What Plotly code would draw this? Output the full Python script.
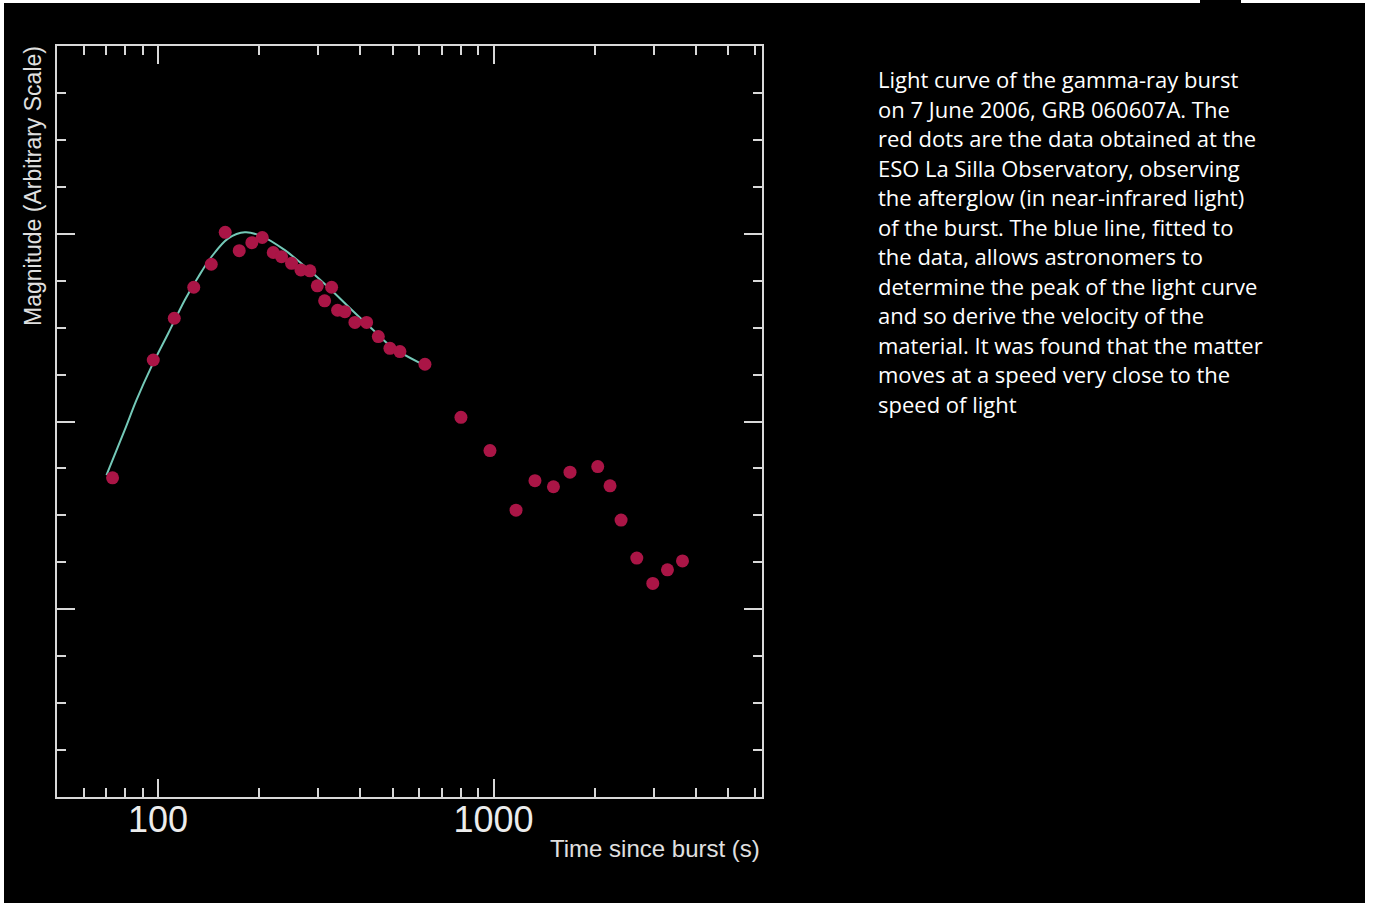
import math
import plotly.graph_objects as go

# ---------------- data ----------------
time_s = [73.2, 96.8, 111.8, 127.8, 144.1, 158.6, 174.6, 190.4, 204.5, 220.5,
          233.4, 250.0, 266.6, 283.6, 298.4, 313.7, 329.1, 342.9, 360.5, 386.2,
          418.4, 453.5, 491.1, 526.0, 624.5, 799.5, 975.7, 1166.7, 1328.5, 1508.2,
          1689.7, 2044, 2224, 2399, 2672, 2982, 3298, 3656]
magnitude = [6.80, 9.31, 10.20, 10.86, 11.35, 12.03, 11.64, 11.81, 11.92, 11.60,
             11.51, 11.37, 11.23, 11.21, 10.89, 10.57, 10.86, 10.37, 10.34, 10.11,
             10.11, 9.81, 9.56, 9.49, 9.22, 8.09, 7.38, 6.11, 6.74, 6.61,
             6.92, 7.04, 6.63, 5.90, 5.09, 4.55, 4.84, 5.03]

fit_time = [70.2, 79.6, 86.3, 95.6, 107.3, 120.2, 131.8, 144.4, 162.0, 181.5,
            203.5, 238.8, 274.1, 321.8, 377.5, 433.1, 496.8, 602.3]
fit_mag = [6.86, 7.82, 8.46, 9.17, 9.88, 10.59, 11.08, 11.51, 11.90, 12.03,
           11.95, 11.65, 11.30, 10.86, 10.38, 9.98, 9.59, 9.25]

x_major_ticks = [100, 1000]
x_major_labels = ["100", "1000"]
x_minor_ticks = [60, 70, 80, 90, 200, 300, 400, 500, 600, 700, 800, 900,
                 2000, 3000, 4000, 5000, 6000]

x_title = "Time since burst (s)"
y_title = "Magnitude (Arbitrary Scale)"
caption_lines = [
    "Light curve of the gamma-ray burst",
    "on 7 June 2006, GRB 060607A. The",
    "red dots are the data obtained at the",
    "ESO La Silla Observatory, observing",
    "the afterglow (in near-infrared light)",
    "of the burst. The blue line, fitted to",
    "the data, allows astronomers to",
    "determine the peak of the light curve",
    "and so derive the velocity of the",
    "material. It was found that the matter",
    "moves at a speed very close to the",
    "speed of light",
]

# ---------------- layout geometry ----------------
W, H = 1373, 903
PL, PR, PT, PB = 57, 762, 46, 797   # plot area in pixels
pw, ph = PR - PL, PB - PT


def px_to_paper_x(px):
    return (px - PL) / pw


def py_to_paper_y(py):
    return (PB - py) / ph


AX = "#d8d8d8"

fig = go.Figure()
fig.add_trace(go.Scatter(
    x=fit_time, y=fit_mag, mode="lines",
    line=dict(color="#74c9b8", width=2, shape="spline", smoothing=1.0),
    hoverinfo="skip", showlegend=False))
fig.add_trace(go.Scatter(
    x=time_s, y=magnitude, mode="markers",
    marker=dict(color="#aa1546", size=13, line=dict(width=0)),
    showlegend=False))

axis_common = dict(
    showline=True, linecolor=AX, linewidth=2, mirror="allticks",
    ticks="inside", ticklen=18, tickwidth=2, tickcolor=AX,
    showgrid=False, zeroline=False,
)

fig.update_xaxes(
    type="log", range=[math.log10(50), 3.80],
    tickvals=x_major_ticks, ticktext=x_major_labels,
    tickfont=dict(family="Liberation Sans", size=36, color="#ececec"),
    ticklabelstandoff=-10,
    minor=dict(tickvals=x_minor_ticks, ticks="inside", ticklen=9,
               tickwidth=2, tickcolor=AX, showgrid=False),
    **axis_common)
fig.update_yaxes(
    range=[0, 16], dtick=4, tick0=0, showticklabels=False,
    minor=dict(dtick=1, ticks="inside", ticklen=9, tickwidth=2,
               tickcolor=AX, showgrid=False),
    **axis_common)

annotations = [
    dict(text=x_title, xref="paper", yref="paper",
         x=px_to_paper_x(762), y=py_to_paper_y(849),
         xanchor="right", yanchor="middle", showarrow=False,
         font=dict(family="Liberation Sans", size=24, color="#e0e0e0")),
    dict(text=y_title, xref="paper", yref="paper",
         x=px_to_paper_x(33), y=py_to_paper_y(44),
         xanchor="center", yanchor="top", textangle=-90, showarrow=False,
         font=dict(family="Liberation Sans", size=23, color="#e0e0e0")),
]
line_gap = 29.5
for i, line in enumerate(caption_lines):
    annotations.append(dict(
        text=line, xref="paper", yref="paper",
        x=px_to_paper_x(876), y=py_to_paper_y(79 + i * line_gap),
        xanchor="left", yanchor="middle", showarrow=False,
        font=dict(family="Open Sans", size=22, color="#ffffff")))

shapes = [
    # black picture area inside a thin white page border
    dict(type="rect", xref="paper", yref="paper", layer="below",
         x0=px_to_paper_x(4), x1=px_to_paper_x(1365),
         y0=py_to_paper_y(H + 2), y1=py_to_paper_y(3),
         fillcolor="black", line=dict(width=0)),
    dict(type="rect", xref="paper", yref="paper", layer="below",
         x0=px_to_paper_x(1200), x1=px_to_paper_x(1241),
         y0=py_to_paper_y(4), y1=py_to_paper_y(-2),
         fillcolor="black", line=dict(width=0)),
]

fig.update_layout(
    width=W, height=H,
    margin=dict(l=PL, r=W - PR, t=PT, b=H - PB, pad=0),
    paper_bgcolor="white", plot_bgcolor="black",
    annotations=annotations, shapes=shapes,
    showlegend=False,
)

fig.write_html(
    "out.html",
    config={"displayModeBar": False},
    post_script="document.body.style.margin='0';document.body.style.overflow='hidden';",
)
